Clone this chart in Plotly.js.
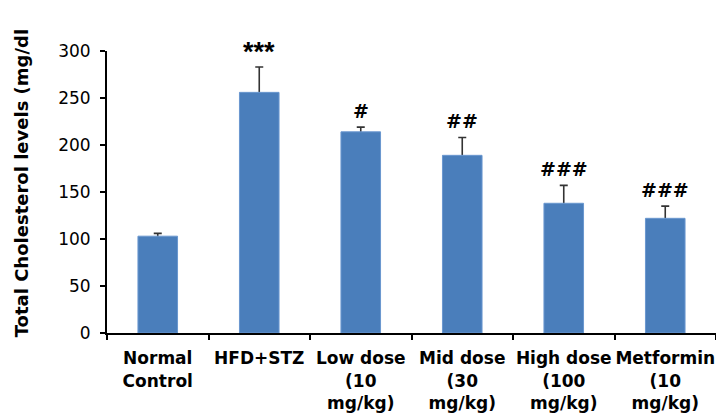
<!DOCTYPE html>
<html>
<head>
<meta charset="utf-8">
<script src="https://cdn.plot.ly/plotly-3.0.1.min.js"></script>
<style>html,body{margin:0;padding:0;background:#fff;}#chart{width:716px;height:419px;}</style>
</head>
<body>
<div id="chart"></div>
<script>
var categories = ["Normal<br>Control", "HFD+STZ", "Low dose<br>(10<br>mg/kg)", "Mid dose<br>(30<br>mg/kg)", "High dose<br>(100<br>mg/kg)", "Metformin<br>(10<br>mg/kg)"];
var means = [103, 256, 214, 189, 138, 122];
var sem = [3, 27, 5, 19, 19, 13];
var marksFor = ["", "***", "#", "##", "###", "###"];
var yTicks = [0, 50, 100, 150, 200, 250, 300];

var errTrace = {
  type: "bar", x: categories, y: means, width: 0.39,
  marker: {color: "rgba(0,0,0,0)"},
  error_y: {type: "data", array: sem, visible: true, color: "#333333", thickness: 1.6, width: 4},
  hoverinfo: "skip", showlegend: false
};
var barTrace = {
  type: "bar", x: categories, y: means, width: 0.39,
  marker: {color: "#4a7ebb", line: {color: "#6a97cf", width: 1}},
  showlegend: false
};

var annotations = [];
for (var i = 0; i < categories.length; i++) {
  if (marksFor[i]) {
    var star = marksFor[i].indexOf("*") >= 0;
    annotations.push({
      x: categories[i], y: means[i] + sem[i], xref: "x", yref: "y",
      text: "<b>" + marksFor[i] + "</b>", showarrow: false, yanchor: "bottom", yshift: star ? -2 : 3,
      font: {family: star ? "Liberation Sans" : "DejaVu Sans", size: star ? 27 : 19, color: "#000"}
    });
  }
}
annotations.push({
  xref: "paper", yref: "paper", x: -0.14, y: 0.53, xanchor: "center", yanchor: "middle",
  text: "<b>Total Cholesterol levels (mg/dl</b>", textangle: -90, showarrow: false,
  font: {family: "DejaVu Sans", size: 18, color: "#000"}
});

var layout = {
  width: 716, height: 419,
  margin: {l: 107, r: 0, t: 51, b: 86, pad: 0},
  paper_bgcolor: "#fff", plot_bgcolor: "#fff",
  barmode: "overlay",
  xaxis: {
    type: "category", showgrid: false, zeroline: false,
    showline: true, linecolor: "#000", linewidth: 2,
    ticks: "outside", tickson: "boundaries", ticklen: 5, tickcolor: "#000", tickwidth: 2,
    tickangle: 0, ticklabelstandoff: 9,
    tickfont: {family: "DejaVu Sans", size: 17, color: "#000", weight: "bold"},
    range: [-0.5, 5.5]
  },
  yaxis: {
    range: [0, 300], tickvals: yTicks, showgrid: false, zeroline: false,
    showline: true, linecolor: "#000", linewidth: 2,
    ticks: "outside", ticklen: 5, tickcolor: "#000", tickwidth: 2,
    tickfont: {family: "DejaVu Sans", size: 17, color: "#000"},
    ticklabelstandoff: 6
  },
  annotations: annotations
};
Plotly.newPlot("chart", [errTrace, barTrace], layout, {staticPlot: true, displayModeBar: false});
</script>
</body>
</html>
